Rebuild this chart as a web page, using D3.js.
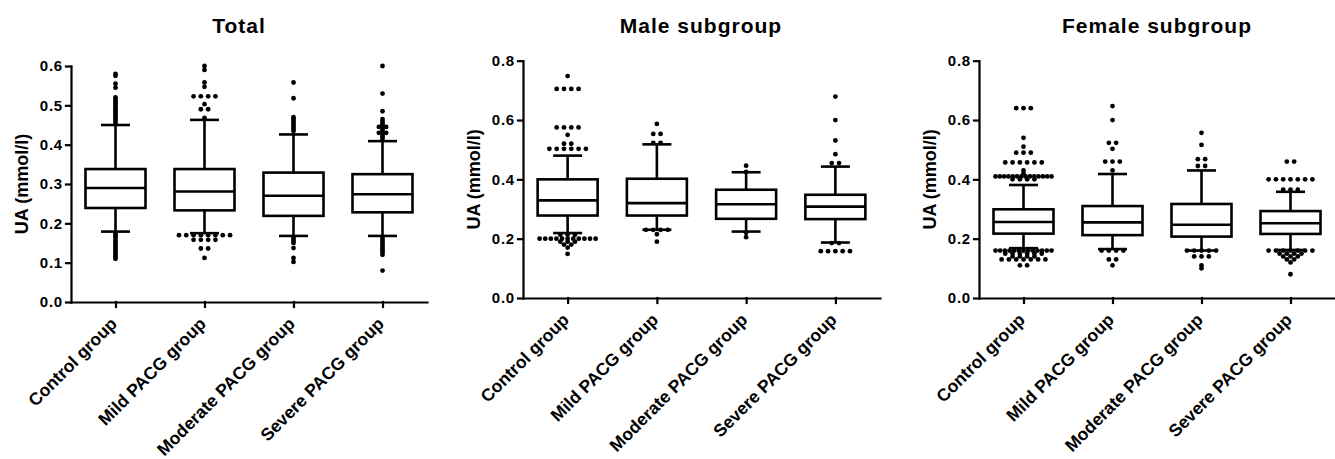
<!DOCTYPE html>
<html>
<head>
<meta charset="utf-8">
<script src="https://cdn.jsdelivr.net/npm/d3@7"></script>
<style>
  body { margin: 0; background: #fff; }
  svg { display: block; font-family: "Liberation Sans", Arial, Helvetica, sans-serif; }
  .axis path, .axis line { stroke: #000; stroke-width: 2.2; stroke-linecap: square; }
  .axis text { fill: #000; font-weight: bold; }
</style>
</head>
<body>
<svg width="1335" height="459"></svg>
<script>
const groups = ["Control group", "Mild PACG group", "Moderate PACG group", "Severe PACG group"];

// box stats per group: [lower whisker, Q1, median, Q3, upper whisker]
const totalStats = [
  [0.179, 0.239, 0.290, 0.338, 0.450],
  [0.175, 0.233, 0.281, 0.338, 0.463],
  [0.168, 0.219, 0.270, 0.329, 0.426],
  [0.168, 0.228, 0.274, 0.325, 0.409]
];
const totalOutliers = [
  [0.58, 0.575, 0.555, 0.545, 0.52, 0.515, 0.51, 0.505, 0.50, 0.495, 0.49, 0.485, 0.48, 0.475, 0.47, 0.465, 0.46, 0.455,
   0.175, 0.17, 0.165, 0.16, 0.155, 0.15, 0.145, 0.14, 0.135, 0.13, 0.125, 0.12, 0.115, 0.11],
  [0.60, 0.59, 0.558, 0.547, 0.523, 0.523, 0.523, 0.523, 0.503, 0.49, 0.49, 0.468,
   0.17, 0.17, 0.17, 0.17, 0.17, 0.17, 0.17, 0.17, 0.158, 0.158, 0.158, 0.158, 0.136, 0.136, 0.112],
  [0.558, 0.518, 0.47, 0.465, 0.46, 0.455, 0.45, 0.445, 0.44, 0.435,
   0.165, 0.16, 0.155, 0.15, 0.137, 0.112, 0.102],
  [0.60, 0.53, 0.485, 0.465, 0.46, 0.455, 0.45, 0.445, 0.445, 0.44, 0.435, 0.43, 0.43, 0.425, 0.42, 0.415,
   0.165, 0.16, 0.155, 0.15, 0.145, 0.14, 0.135, 0.13, 0.125, 0.12, 0.08]
];

const maleStats = [
  [0.219, 0.278, 0.329, 0.400, 0.480],
  [0.230, 0.278, 0.320, 0.402, 0.518],
  [0.224, 0.267, 0.316, 0.365, 0.424],
  [0.187, 0.266, 0.308, 0.348, 0.443]
];
const maleOutliers = [
  [0.748, 0.705, 0.705, 0.705, 0.705, 0.575, 0.575, 0.575, 0.575, 0.55, 0.52, 0.52,
   0.503, 0.503, 0.503, 0.503, 0.503, 0.503,
   0.213, 0.213, 0.213, 0.20, 0.20, 0.20, 0.20, 0.20, 0.20, 0.20, 0.20, 0.20, 0.20, 0.20,
   0.19, 0.19, 0.19, 0.18, 0.18, 0.17, 0.149],
  [0.587, 0.553, 0.553, 0.523, 0.523, 0.23, 0.23, 0.23, 0.23, 0.215, 0.19],
  [0.446, 0.425, 0.22, 0.205],
  [0.679, 0.60, 0.531, 0.485, 0.455, 0.455, 0.185, 0.185, 0.158, 0.158, 0.158, 0.158, 0.158]
];

const femaleStats = [
  [0.168, 0.217, 0.256, 0.299, 0.381],
  [0.165, 0.212, 0.255, 0.310, 0.418],
  [0.160, 0.207, 0.247, 0.317, 0.430],
  [0.162, 0.216, 0.252, 0.293, 0.358]
];
const femaleOutliers = [
  [0.64, 0.64, 0.64, 0.54, 0.51, 0.49, 0.49, 0.49, 0.457, 0.457, 0.457, 0.457, 0.457, 0.457, 0.43, 0.42,
   0.41, 0.41, 0.41, 0.41, 0.41, 0.41, 0.41, 0.41, 0.41, 0.41, 0.41, 0.41, 0.41, 0.41,
   0.40, 0.40, 0.40, 0.40,
   0.16, 0.16, 0.16, 0.16, 0.16, 0.16, 0.16, 0.16, 0.16, 0.16, 0.16, 0.16, 0.16,
   0.15, 0.15, 0.15, 0.15, 0.15, 0.15,
   0.14, 0.14, 0.14, 0.14,
   0.13, 0.13, 0.13, 0.13, 0.13, 0.13, 0.13, 0.11, 0.11],
  [0.647, 0.60, 0.523, 0.523, 0.503, 0.46, 0.46, 0.46, 0.43, 0.16, 0.16, 0.16, 0.16, 0.13, 0.13, 0.11],
  [0.557, 0.516, 0.468, 0.468, 0.445, 0.445, 0.16, 0.16, 0.16, 0.16, 0.16, 0.14, 0.14, 0.14, 0.11, 0.10],
  [0.46, 0.46, 0.40, 0.40, 0.40, 0.40, 0.40, 0.40, 0.40, 0.365, 0.365, 0.365,
   0.16, 0.16, 0.16, 0.16, 0.16, 0.16, 0.16, 0.15, 0.15, 0.15, 0.15, 0.14, 0.14, 0.14, 0.13, 0.13, 0.12, 0.08]
];

const totalTicks = [0.0, 0.1, 0.2, 0.3, 0.4, 0.5, 0.6];
const subTicks = [0.0, 0.2, 0.4, 0.6, 0.8];

const panels = [
  { title: "Total", titleX: 239, stats: totalStats, outliers: totalOutliers, ticks: totalTicks,
    x0: 71, x1: 427, yTop: 66, yBottom: 302 },
  { title: "Male subgroup", titleX: 701, stats: maleStats, outliers: maleOutliers, ticks: subTicks,
    x0: 523, x1: 880, yTop: 60.7, yBottom: 298 },
  { title: "Female subgroup", titleX: 1157, stats: femaleStats, outliers: femaleOutliers, ticks: subTicks,
    x0: 979, x1: 1335, yTop: 60.7, yBottom: 298 }
];

const svg = d3.select("svg");
const boxW = 60, capW = 29, dotR = 2.4;

// equal values sit side by side in a row, squeezed when the row gets long
function swarm(values, y) {
  const out = [];
  for (const [v, arr] of d3.group(values, (d) => d)) {
    const n = arr.length;
    const step = n > 1 ? Math.min(7.3, 56 / (n - 1)) : 0;
    arr.forEach((_, i) => out.push({ x: (i - (n - 1) / 2) * step, y: y(v) }));
  }
  return out;
}

panels.forEach((p) => {
  const x = d3.scalePoint().domain(groups).range([p.x0, p.x1]).padding(0.5);
  const y = d3.scaleLinear()
    .domain([0, p.ticks[p.ticks.length - 1]])
    .range([p.yBottom, p.yTop]);

  const g = svg.append("g");

  // title
  g.append("text")
    .attr("x", p.titleX)
    .attr("y", 33)
    .attr("text-anchor", "middle")
    .style("font-size", "21px")
    .style("font-weight", "bold")
    .style("letter-spacing", "1px")
    .text(p.title);

  // y label
  g.append("text")
    .attr("transform", `translate(${p.x0 - 43},${(p.yTop + p.yBottom) / 2}) rotate(-90)`)
    .attr("text-anchor", "middle")
    .style("font-size", "18px")
    .style("font-weight", "bold")
    .text("UA (mmol/l)");

  // boxes
  const boxes = g.selectAll(".box")
    .data(groups)
    .enter()
    .append("g")
    .attr("transform", (d) => `translate(${x(d)},0)`);

  boxes.each(function (d, i) {
    const s = p.stats[i];
    const b = d3.select(this);
    const st = (sel) => sel.attr("stroke", "#000").attr("stroke-width", 2.6);

    st(b.append("line").attr("x1", 0).attr("x2", 0).attr("y1", y(s[4])).attr("y2", y(s[3])));
    st(b.append("line").attr("x1", 0).attr("x2", 0).attr("y1", y(s[1])).attr("y2", y(s[0])));
    st(b.append("line").attr("x1", -capW / 2).attr("x2", capW / 2).attr("y1", y(s[4])).attr("y2", y(s[4])));
    st(b.append("line").attr("x1", -capW / 2).attr("x2", capW / 2).attr("y1", y(s[0])).attr("y2", y(s[0])));
    st(b.append("rect")
      .attr("x", -boxW / 2)
      .attr("width", boxW)
      .attr("y", y(s[3]))
      .attr("height", y(s[1]) - y(s[3]))
      .attr("fill", "#fff"));
    st(b.append("line").attr("x1", -boxW / 2).attr("x2", boxW / 2).attr("y1", y(s[2])).attr("y2", y(s[2])));

    b.selectAll("circle")
      .data(swarm(p.outliers[i], y))
      .enter()
      .append("circle")
      .attr("cx", (q) => q.x)
      .attr("cy", (q) => q.y)
      .attr("r", dotR)
      .attr("fill", "#000");
  });

  // axes
  g.append("g")
    .attr("class", "axis")
    .attr("transform", `translate(${p.x0},0)`)
    .call(d3.axisLeft(y).tickValues(p.ticks).tickFormat(d3.format(".1f")).tickSize(5).tickSizeOuter(0).tickPadding(3))
    .selectAll("text")
    .style("font-size", "15px")
    .style("letter-spacing", "0.8px");

  g.append("g")
    .attr("class", "axis")
    .attr("transform", `translate(0,${p.yBottom})`)
    .call(d3.axisBottom(x).tickSize(5).tickSizeOuter(0))
    .selectAll("text")
    .attr("y", 0)
    .attr("dy", 0)
    .attr("transform", "translate(2,23) rotate(-45)")
    .style("text-anchor", "end")
    .style("font-size", "17.5px");

  g.selectAll(".axis .domain").attr("stroke-width", 2.4);
});
</script>
</body>
</html>
